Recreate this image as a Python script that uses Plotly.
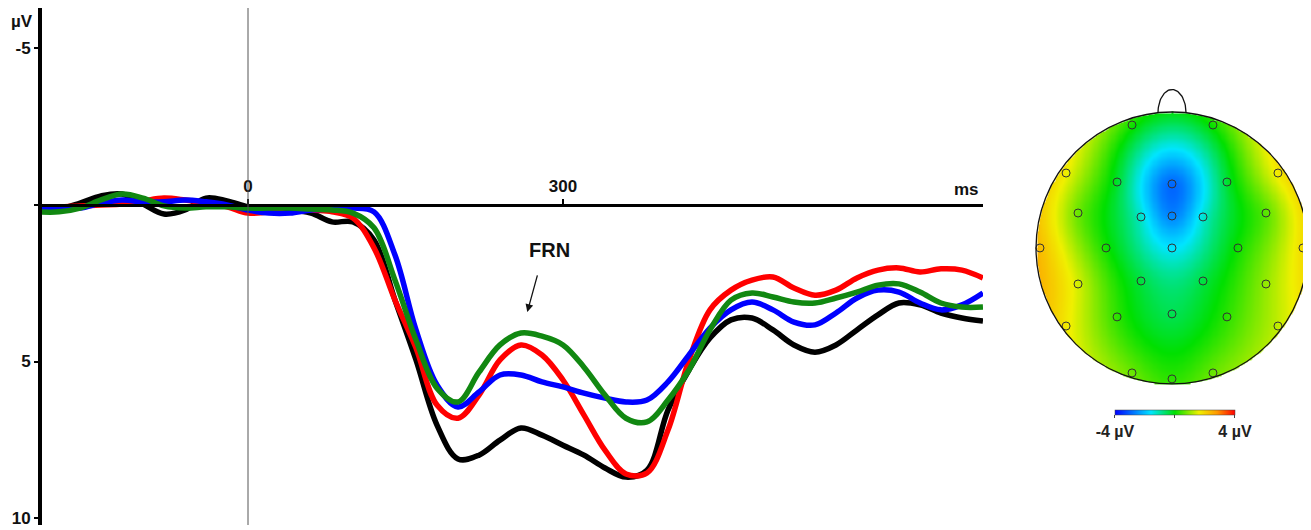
import numpy as np
import plotly.graph_objects as go

# ---------------- ERP data (ms, µV) ----------------
times = list(range(-200, 701, 20))

black = [0.16, 0.13, -0.06, -0.29, -0.35, -0.03, 0.29, 0.16, -0.22, -0.13,
         0.06, 0.16, 0.16, 0.26, 0.54, 0.54, 1.12, 3.04, 4.95, 7.03,
         8.11, 7.99, 7.51, 7.12, 7.35, 7.67, 7.99, 8.40, 8.69, 8.47,
         6.55, 5.27, 4.25, 3.67, 3.61, 3.99, 4.47, 4.70, 4.47, 3.99,
         3.51, 3.13, 3.19, 3.45, 3.61, 3.71]
red = [0.06, 0.06, 0.03, 0.00, -0.03, -0.13, -0.22, -0.16, -0.06, 0.06,
       0.26, 0.22, 0.06, 0.16, 0.22, 0.42, 1.37, 3.04, 4.57, 6.39,
       6.81, 6.07, 4.95, 4.47, 4.79, 5.59, 6.71, 7.83, 8.59, 8.56,
       7.19, 4.95, 3.35, 2.72, 2.40, 2.30, 2.65, 2.88, 2.72, 2.33,
       2.08, 2.01, 2.14, 2.04, 2.08, 2.33]
green = [0.22, 0.22, 0.10, -0.16, -0.35, -0.22, 0.03, 0.10, 0.06, 0.06,
         0.10, 0.10, 0.10, 0.13, 0.16, 0.26, 0.73, 2.40, 4.31, 5.85,
         6.29, 5.34, 4.47, 4.09, 4.19, 4.47, 5.18, 6.07, 6.81, 6.93,
         6.23, 5.27, 3.99, 3.04, 2.81, 2.94, 3.10, 3.13, 2.97, 2.78,
         2.56, 2.52, 2.78, 3.13, 3.26, 3.26]
blue = [0.10, 0.10, 0.10, -0.06, -0.16, -0.10, -0.10, -0.16, -0.10, 0.00,
        0.16, 0.26, 0.26, 0.16, 0.13, 0.10, 0.22, 1.60, 3.99, 5.75,
        6.45, 5.97, 5.43, 5.43, 5.65, 5.81, 6.01, 6.17, 6.29, 6.23,
        5.65, 4.79, 3.93, 3.35, 3.10, 3.35, 3.74, 3.83, 3.45, 2.97,
        2.72, 2.78, 3.13, 3.35, 3.19, 2.81]

y_ticks = [-5, 0, 5, 10]
y_ticktext = ["-5", "", "5", "10"]
x_ticks = [0, 300]
x_ticktext = ["0", "300"]

# ---------------- Topomap data (head units, µV) ----------------
elec_x = [-0.294, 0.301, -0.779, 0.779, -0.404, 0.0, 0.404, -0.691, -0.228, 0.0,
          0.228, 0.691, -0.971, -0.485, 0.0, 0.485, 0.963, -0.691, -0.228, 0.228,
          0.691, -0.404, 0.0, 0.404, -0.779, 0.779, -0.294, 0.301, 0.0]
elec_y = [0.904, 0.904, 0.551, 0.551, 0.485, 0.471, 0.485, 0.257, 0.228, 0.235,
          0.228, 0.257, 0.0, 0.0, 0.0, 0.0, 0.0, -0.265, -0.243, -0.243,
          -0.265, -0.507, -0.485, -0.507, -0.574, -0.574, -0.919, -0.919, -0.963]
elec_v = [0.1, 0.1, 1.6, 1.7, -0.3, -2.9, -0.3, 0.7, -1.3, -2.6,
          -1.3, 0.6, 2.3, 0.1, -1.6, 0.1, 1.9, 1.4, -0.4, -0.4,
          1.0, 0.3, -0.5, 0.3, 1.7, 1.3, 0.7, 0.7, 0.3]
cbar_range = [-4, 4]

# thin-plate spline rendering of the electrode values
ex, ey, ev = np.array(elec_x), np.array(elec_y), np.array(elec_v)
n = len(ex)
def tps(r):
    with np.errstate(divide="ignore", invalid="ignore"):
        out = r ** 2 * np.log(r)
    return np.nan_to_num(out)
D = np.hypot(ex[:, None] - ex[None, :], ey[:, None] - ey[None, :])
K = tps(D)
P = np.column_stack([np.ones(n), ex, ey])
A = np.zeros((n + 3, n + 3))
A[:n, :n] = K
A[:n, n:] = P
A[n:, :n] = P.T
sol = np.linalg.solve(A, np.concatenate([ev, np.zeros(3)]))
w, a = sol[:n], sol[n:]
g = np.linspace(-1, 1, 241)
GX, GY = np.meshgrid(g, g)
R = np.hypot(GX[..., None] - ex, GY[..., None] - ey)
Z = (tps(R) * w).sum(-1) + a[0] + a[1] * GX + a[2] * GY
Z[np.hypot(GX, GY) > 1.0] = np.nan

# ---------------- Figure ----------------
FONT = "Liberation Sans"
fig = go.Figure()
for vals, col in [(black, "#000000"), (red, "#FF0000"), (blue, "#0000FF"), (green, "#118811")]:
    fig.add_trace(go.Scatter(x=times, y=vals, mode="lines",
                             line=dict(color=col, width=5.5, shape="spline", smoothing=1.0),
                             showlegend=False, hoverinfo="skip", xaxis="x", yaxis="y"))

jet = [[0.0, "#0000FF"], [0.3, "#00E5FF"], [0.5, "#00E000"], [0.7, "#F0F000"],
       [0.85, "#FF9900"], [1.0, "#FF0000"]]
fig.add_trace(go.Heatmap(x=g, y=g, z=Z, colorscale=jet, zmin=cbar_range[0], zmax=cbar_range[1],
                         zsmooth="best", xaxis="x2", yaxis="y2", hoverinfo="skip",
                         colorbar=dict(orientation="h", x=0.8928, xanchor="center",
                                       y=0.2224, yanchor="top", len=120, lenmode="pixels",
                                       thickness=5, xpad=0, ypad=0, outlinewidth=0.5,
                                       outlinecolor="#444",
                                       tickvals=[-4, 0, 4], ticktext=["-4 µV", "", "4 µV"],
                                       ticks="outside", ticklen=3, tickcolor="#444",
                                       tickfont=dict(family=FONT, size=16, color="#222",
                                                     weight="bold"))))
fig.add_trace(go.Scatter(x=elec_x, y=elec_y, mode="markers",
                         marker=dict(symbol="circle-open", size=8, color="#333",
                                     line=dict(width=1, color="#333")),
                         showlegend=False, hoverinfo="skip", xaxis="x2", yaxis="y2"))
# nose
nose_t = np.linspace(0, np.pi, 40)
fig.add_trace(go.Scatter(x=0.103 * np.cos(nose_t), y=0.995 + 0.17 * np.sin(nose_t),
                         mode="lines", line=dict(color="#111", width=1.3),
                         showlegend=False, hoverinfo="skip", xaxis="x2", yaxis="y2"))
fig.add_shape(type="circle", xref="x2", yref="y2", x0=-1, y0=-1, x1=1, y1=1,
              line=dict(color="#111", width=1.3))

fig.add_vline(x=0, line=dict(color="#555", width=1))

yr_bottom, yr_top = 10.22, -6.29
zero_pos = (yr_bottom - 0) / (yr_bottom - yr_top)

# the page body adds an 8 px offset; the figure is sized/margined to compensate
fig.update_layout(
    width=1303, height=522,
    margin=dict(l=34, r=0, t=0, b=5, autoexpand=False),
    paper_bgcolor="white", plot_bgcolor="white",
    font=dict(family=FONT, size=16, color="#111"),
    xaxis=dict(domain=[0, 0.7415], range=[-196.2, 700], anchor="free", position=zero_pos,
               side="top", showline=True, linecolor="black", linewidth=3, automargin=False,
               ticks="outside", ticklen=5, tickwidth=2, tickcolor="black",
               tickvals=x_ticks, ticktext=x_ticktext, showgrid=False, zeroline=False,
               tickfont=dict(family=FONT, size=17, color="#111", weight="bold")),
    yaxis=dict(domain=[0, 1], range=[yr_bottom, yr_top], showline=True, linecolor="black",
               linewidth=4, ticks="outside", ticklen=4, tickwidth=2, tickcolor="black",
               automargin=False,
               tickvals=y_ticks, ticktext=y_ticktext, showgrid=False, zeroline=False,
               tickfont=dict(family=FONT, size=17, color="#111", weight="bold")),
    xaxis2=dict(domain=[0.7786, 1.0], range=[-1.044, 1.022], visible=False, anchor="y2",
                automargin=False),
    yaxis2=dict(domain=[0.2418, 0.8607], range=[-1.118, 1.235], visible=False, anchor="x2",
                automargin=False),
)

fig.add_annotation(x=0, y=1, xref="paper", yref="paper", xanchor="right", yanchor="top",
                   xshift=-7, yshift=-2, text="<b>µV</b>", showarrow=False,
                   font=dict(family=FONT, size=17, color="#111"))
fig.add_annotation(x=700, y=0, xref="x", yref="y", xanchor="right", yanchor="bottom",
                   xshift=-2, yshift=4, text="<b>ms</b>", showarrow=False,
                   font=dict(family=FONT, size=17, color="#111"))
fig.add_annotation(x=266, y=3.42, xref="x", yref="y", ax=276, ay=2.2, axref="x", ayref="y",
                   text="", showarrow=True, arrowhead=2, arrowsize=1.2, arrowwidth=1.3,
                   arrowcolor="#111")
fig.add_annotation(x=287, y=1.44, xref="x", yref="y", text="<b>FRN</b>", showarrow=False,
                   font=dict(family=FONT, size=20, color="#111"))

fig.write_html("out.html")
